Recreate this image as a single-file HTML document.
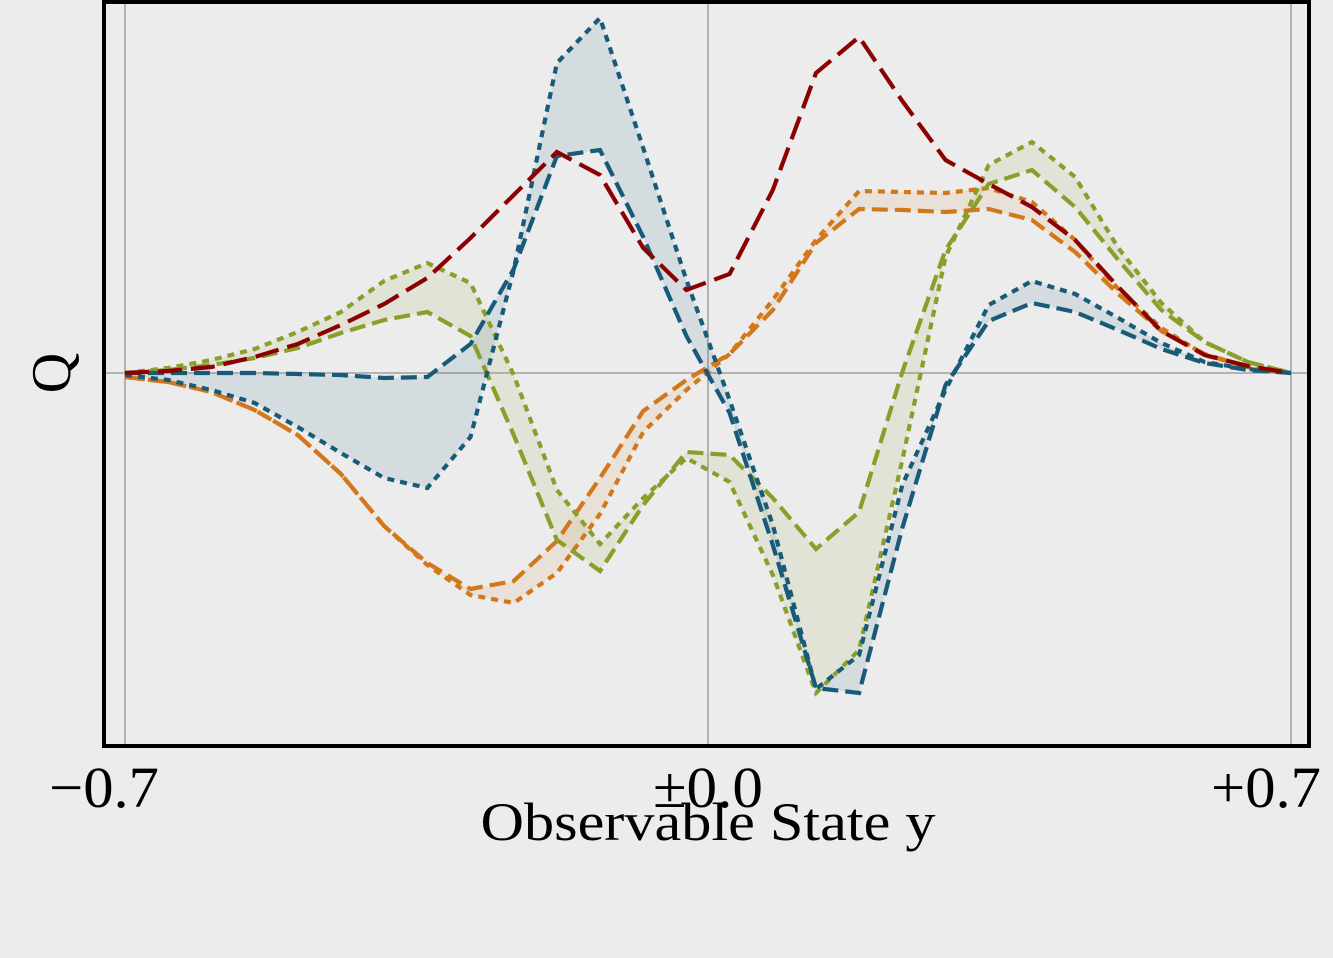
<!DOCTYPE html>
<html>
<head>
<meta charset="utf-8">
<style>
html,body{margin:0;padding:0;background:#ececec;}
svg{display:block;}
text{font-family:"Liberation Serif",serif;fill:#000;}
</style>
</head>
<body>
<svg id="chart" width="1333" height="958" viewBox="0 0 1333 958" xmlns="http://www.w3.org/2000/svg">
  <rect width="1333" height="958" fill="#ececec"/>
  <g id="grid"></g>
  <g id="fills"></g>
  <g id="lines"></g>
  <rect x="104" y="2" width="1205" height="744" fill="none" stroke="#000" stroke-width="4"/>
  <g id="ticks"></g>
  <text x="708" y="840" text-anchor="middle" font-size="54" textLength="455" lengthAdjust="spacingAndGlyphs">Observable State y</text>
  <text transform="translate(70,373) rotate(-90)" text-anchor="middle" font-size="56">Q</text>
</svg>
<script>
const xTicks = [-0.7, 0, 0.7];
const xTickLabels = ["\u22120.7", "\u00B10.0", "+0.7"];
const red = [0,0.02,0.06,0.16,0.29,0.48,0.69,0.95,1.35,1.78,2.21,1.98,1.25,0.83,0.99,1.83,3.00,3.36,2.72,2.13,1.89,1.66,1.33,0.86,0.42,0.18,0.07,0];
const blueDashed = [0,0,0,0,-0.01,-0.02,-0.05,-0.04,0.29,1.04,2.17,2.23,1.36,0.37,-0.40,-1.72,-3.15,-3.20,-1.55,-0.12,0.52,0.70,0.61,0.43,0.24,0.10,0.03,0];
const blueDotted = [-0.02,-0.07,-0.17,-0.30,-0.54,-0.80,-1.05,-1.15,-0.64,1.03,3.10,3.55,2.25,0.93,-0.27,-1.52,-3.16,-2.82,-1.12,-0.17,0.68,0.92,0.79,0.55,0.30,0.11,0.04,0];
const greenDashed = [0,0.03,0.08,0.15,0.25,0.40,0.53,0.61,0.37,-0.62,-1.67,-1.98,-1.32,-0.79,-0.82,-1.25,-1.76,-1.39,0.01,1.23,1.89,2.03,1.66,1.13,0.63,0.31,0.11,0];
const greenDotted = [0,0.05,0.13,0.24,0.41,0.61,0.92,1.10,0.90,-0.02,-1.17,-1.71,-1.25,-0.85,-1.09,-2.02,-3.20,-2.77,-0.87,1.16,2.08,2.31,1.96,1.25,0.70,0.31,0.11,0];
const orangeDashed = [-0.04,-0.09,-0.19,-0.37,-0.62,-1.01,-1.53,-1.90,-2.16,-2.08,-1.68,-1.05,-0.38,-0.07,0.19,0.63,1.30,1.64,1.63,1.61,1.64,1.53,1.21,0.79,0.42,0.19,0.06,0];
const orangeDotted = [-0.04,-0.09,-0.19,-0.37,-0.62,-1.01,-1.53,-1.92,-2.22,-2.30,-2.00,-1.41,-0.59,-0.17,0.19,0.73,1.33,1.82,1.81,1.80,1.85,1.71,1.33,0.84,0.45,0.18,0.06,0];
const xMin = -0.7, xMax = 0.7;

const NS = "http://www.w3.org/2000/svg";
function xs(v){ return 125 + (v - xMin) / (xMax - xMin) * 1166; }
function ys(q){ return 373 - q * 100; }
function xAt(i, n){ return xMin + i * (xMax - xMin) / (n - 1); }
function pts(arr){ return arr.map((q,i)=>xs(xAt(i,arr.length)).toFixed(1)+","+ys(q).toFixed(1)); }

const grid = document.getElementById("grid");
xTicks.forEach(function(t){
  const l = document.createElementNS(NS,"line");
  
  
  l.setAttribute("x1", xs(t)); l.setAttribute("x2", xs(t));
  l.setAttribute("y1", 2); l.setAttribute("y2", 746);
  l.setAttribute("stroke", "#7a7a7a"); l.setAttribute("stroke-width", "1");
  grid.appendChild(l);
});
const zl = document.createElementNS(NS,"line");


zl.setAttribute("x1", 104); zl.setAttribute("x2", 1309);
zl.setAttribute("y1", ys(0)); zl.setAttribute("y2", ys(0));
zl.setAttribute("stroke", "#7a7a7a"); zl.setAttribute("stroke-width", "1");
grid.appendChild(zl);

const fills = document.getElementById("fills");
function band(a, b, color, name){
  const p = document.createElementNS(NS,"polygon");
  
  
  p.setAttribute("points", pts(a).concat(pts(b).reverse()).join(" "));
  p.setAttribute("fill", color);
  fills.appendChild(p);
}
band(blueDashed, blueDotted, "rgba(26,90,120,0.11)", "blue-band");
band(greenDashed, greenDotted, "rgba(138,159,43,0.11)", "green-band");
band(orangeDashed, orangeDotted, "rgba(210,119,26,0.10)", "orange-band");

const lines = document.getElementById("lines");
function line(arr, color, dash, name){
  const p = document.createElementNS(NS,"polyline");
  
  
  p.setAttribute("points", pts(arr).join(" "));
  p.setAttribute("fill", "none");
  p.setAttribute("stroke", color);
  p.setAttribute("stroke-width", "4.2");
  p.setAttribute("stroke-dasharray", dash);
  p.setAttribute("stroke-linejoin", "miter");
  lines.appendChild(p);
}
line(orangeDashed, "#d2771a", "16 7", "orange-dashed-line");
line(orangeDotted, "#d2771a", "7 6", "orange-dotted-line");
line(greenDashed, "#8a9f2b", "16 7", "green-dashed-line");
line(greenDotted, "#8a9f2b", "7 6", "green-dotted-line");
line(blueDashed, "#175b78", "16 7", "blue-dashed-line");
line(blueDotted, "#175b78", "7 6", "blue-dotted-line");
line(red, "#8b0000", "24 9", "red-dashed-line");

const ticks = document.getElementById("ticks");
const tickX = [104, 708, 1266];
xTicks.forEach(function(t, i){
  const tx = document.createElementNS(NS,"text");
  
  
  tx.setAttribute("x", tickX[i]);
  tx.setAttribute("y", 807);
  tx.setAttribute("text-anchor", "middle");
  tx.setAttribute("font-size", "58");
  tx.setAttribute("textLength", "110");
  tx.setAttribute("lengthAdjust", "spacingAndGlyphs");
  tx.textContent = xTickLabels[i];
  ticks.appendChild(tx);
});
</script>
</body>
</html>
